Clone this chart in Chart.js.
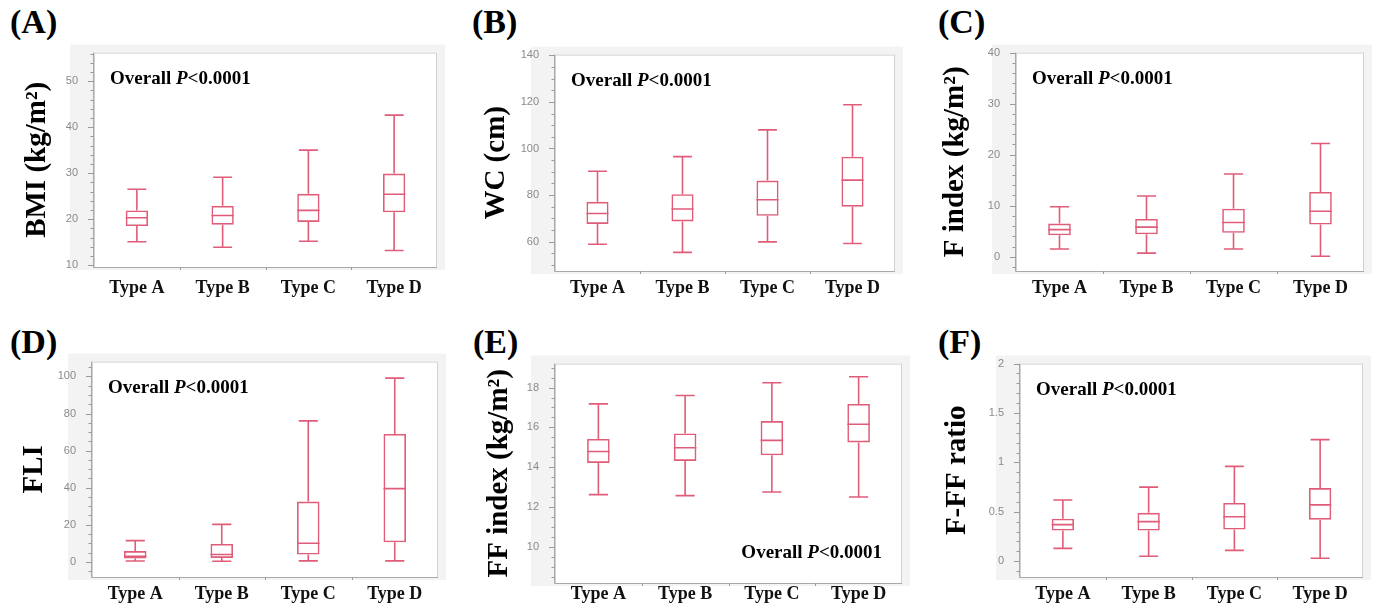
<!DOCTYPE html>
<html lang="en">
<head>
  <meta charset="UTF-8">
  <title>Box plots by type</title>
  <style>
    body {
      margin: 0;
      width: 1376px;
      height: 606px;
      overflow: hidden;
      position: relative;
      background: #ffffff;
      font-family: "Liberation Serif", "Times New Roman", serif;
    }
    .panel-label {
      position: absolute;
      font-weight: bold;
      font-size: 34px;
      line-height: 34px;
      color: #000;
    }
    .plot {
      position: absolute;
    }
  </style>
</head>
<body>
  <div class="panel-label" style="left:10px;top:5px">(A)</div>
  <div class="panel-label" style="left:472px;top:5px">(B)</div>
  <div class="panel-label" style="left:938px;top:5px">(C)</div>
  <div class="panel-label" style="left:10px;top:325px">(D)</div>
  <div class="panel-label" style="left:473px;top:325px">(E)</div>
  <div class="panel-label" style="left:938px;top:325px">(F)</div>

  <div class="plot" id="wrapA"><canvas id="chartA"></canvas></div>
  <div class="plot" id="wrapB"><canvas id="chartB"></canvas></div>
  <div class="plot" id="wrapC"><canvas id="chartC"></canvas></div>
  <div class="plot" id="wrapD"><canvas id="chartD"></canvas></div>
  <div class="plot" id="wrapE"><canvas id="chartE"></canvas></div>
  <div class="plot" id="wrapF"><canvas id="chartF"></canvas></div>

  <script src="https://cdn.jsdelivr.net/npm/chart.js"></script>
  <script>
    const categories = ['Type A', 'Type B', 'Type C', 'Type D'];

    // each box: [lower whisker, Q1, median, Q3, upper whisker]
    const bmiBoxes = [
      [15.1, 18.5, 20.3, 21.9, 26.5],
      [13.9, 18.8, 20.8, 22.9, 29.1],
      [15.2, 19.4, 21.9, 25.5, 35.0],
      [13.2, 21.5, 25.4, 29.9, 42.6]
    ];
    const wcBoxes = [
      [58.9, 67.6, 72.1, 77.1, 90.2],
      [55.4, 68.7, 74.0, 80.4, 96.5],
      [59.9, 71.1, 78.0, 86.2, 108.0],
      [59.2, 75.0, 86.4, 96.5, 118.8]
    ];
    const fIndexBoxes = [
      [1.5, 4.2, 5.3, 6.5, 9.8],
      [0.7, 4.4, 5.8, 7.4, 11.9],
      [1.5, 4.7, 6.7, 9.4, 16.2],
      [0.1, 6.3, 8.9, 12.7, 22.2]
    ];
    const fliBoxes = [
      [0.4, 1.8, 3.0, 5.8, 11.4],
      [0.3, 2.1, 3.9, 9.6, 20.2],
      [0.5, 3.9, 10.0, 32.5, 76.0],
      [0.5, 10.5, 39.5, 69.0, 99.1]
    ];
    const ffIndexBoxes = [
      [12.63, 14.22, 14.79, 15.42, 17.18],
      [12.58, 14.32, 14.98, 15.70, 17.60],
      [12.76, 14.60, 15.35, 16.32, 18.24],
      [12.51, 15.25, 16.16, 17.18, 18.54]
    ];
    const ratioBoxes = [
      [0.13, 0.31, 0.37, 0.43, 0.62],
      [0.05, 0.31, 0.40, 0.49, 0.75],
      [0.11, 0.32, 0.45, 0.59, 0.96],
      [0.03, 0.42, 0.57, 0.74, 1.23]
    ];

    const bmiTicks = [10, 20, 30, 40, 50];
    const wcTicks = [60, 80, 100, 120, 140];
    const fIndexTicks = [0, 10, 20, 30, 40];
    const fliTicks = [0, 20, 40, 60, 80, 100];
    const ffIndexTicks = [10, 12, 14, 16, 18];
    const ratioTicks = [0, 0.5, 1, 1.5, 2];

    const pValueLabel = ['Overall ', 'P', '<0.0001'];

    const boxColor = 'rgb(224, 92, 120)';
    const serif = '"Liberation Serif", "Times New Roman", serif';

    // frame = plot area [left, top, right, bottom] on the page
    const panels = [
      { id: 'A', boxes: bmiBoxes, ticks: bmiTicks, min: 9.6, max: 56.2, minor: 2,
        title: 'BMI (kg/m²)', frame: [94, 48, 437, 267], titleGap: 56, labelPad: 3, pCorner: 'top' },
      { id: 'B', boxes: wcBoxes, ticks: wcTicks, min: 47.4, max: 140.3, minor: 5,
        title: 'WC (cm)', frame: [555, 50, 895, 271], titleGap: 58, labelPad: -1, pCorner: 'top' },
      { id: 'C', boxes: fIndexBoxes, ticks: fIndexTicks, min: -2.8, max: 40, minor: 2,
        title: 'F index (kg/m²)', frame: [1016, 48, 1364, 271], titleGap: 60, labelPad: -1, pCorner: 'top' },
      { id: 'D', boxes: fliBoxes, ticks: fliTicks, min: -8.2, max: 108, minor: 5,
        title: 'FLI', frame: [92, 357, 438, 577], titleGap: 57, labelPad: -1, pCorner: 'top' },
      { id: 'E', boxes: ffIndexBoxes, ticks: ffIndexTicks, min: 8.2, max: 19.2, minor: 0.5,
        title: 'FF index (kg/m²)', frame: [555, 359, 902, 583], titleGap: 55, labelPad: -7, pCorner: 'bottom' },
      { id: 'F', boxes: ratioBoxes, ticks: ratioTicks, min: -0.16, max: 2.0, minor: 0.1,
        title: 'F-FF ratio', frame: [1020, 359, 1363, 577], titleGap: 62, labelPad: -1, pCorner: 'top' }
    ];

    const Y_W = 90, PAD_T = 10, PAD_R = 10, X_H = 30;

    function drawPValue(ctx, area, corner) {
      const fonts = [
        'bold 19px ' + serif,
        'italic bold 19px ' + serif,
        'bold 19px ' + serif
      ];
      let widths = pValueLabel.map((t, i) => { ctx.font = fonts[i]; return ctx.measureText(t).width; });
      const total = widths.reduce((a, b) => a + b, 0);
      let x, y;
      if (corner === 'top') {
        x = area.left + 16;
        y = area.top + 31;
      } else {
        x = area.right - 20 - total;
        y = area.bottom - 25;
      }
      ctx.fillStyle = '#000';
      ctx.textBaseline = 'alphabetic';
      ctx.textAlign = 'left';
      pValueLabel.forEach((t, i) => {
        ctx.font = fonts[i];
        ctx.fillText(t, x, y);
        x += widths[i];
      });
    }

    function makeBoxPlugin(p) {
      return {
        id: 'boxWhiskers' + p.id,
        beforeDraw(chart) {
          const { ctx, chartArea: a } = chart;
          ctx.save();
          ctx.fillStyle = '#f3f3f3';
          ctx.fillRect(a.left - 24, a.top - 8, a.right - a.left + 32, a.bottom - a.top + 11);
          ctx.fillStyle = '#ffffff';
          ctx.fillRect(a.left, a.top, a.right - a.left, a.bottom - a.top);
          ctx.restore();
        },
        afterDatasetsDraw(chart) {
          const { ctx } = chart;
          const y = chart.scales.y;
          const meta = chart.getDatasetMeta(0);
          ctx.save();
          ctx.strokeStyle = boxColor;
          ctx.lineWidth = 1.6;
          meta.data.forEach((bar, i) => {
            const [lo, q1, med, q3, hi] = p.boxes[i];
            const cx = bar.x;
            const half = bar.width / 2;
            const cap = half * 0.85;
            ctx.beginPath();
            ctx.moveTo(cx, y.getPixelForValue(hi));
            ctx.lineTo(cx, y.getPixelForValue(q3));
            ctx.moveTo(cx, y.getPixelForValue(q1));
            ctx.lineTo(cx, y.getPixelForValue(lo));
            ctx.moveTo(cx - cap, y.getPixelForValue(hi));
            ctx.lineTo(cx + cap, y.getPixelForValue(hi));
            ctx.moveTo(cx - cap, y.getPixelForValue(lo));
            ctx.lineTo(cx + cap, y.getPixelForValue(lo));
            ctx.moveTo(cx - half, y.getPixelForValue(med));
            ctx.lineTo(cx + half, y.getPixelForValue(med));
            ctx.stroke();
          });
          ctx.restore();
        },
        afterDraw(chart) {
          const { ctx, chartArea: a } = chart;
          const x = chart.scales.x, y = chart.scales.y;
          ctx.save();
          // frame
          ctx.lineWidth = 1;
          ctx.strokeStyle = '#d2d2d2';
          ctx.strokeRect(a.left + 0.5, a.top + 0.5, a.right - a.left - 1, a.bottom - a.top);
          ctx.strokeStyle = '#a9a9a9';
          ctx.beginPath();
          ctx.moveTo(a.left - 0.5, a.top);
          ctx.lineTo(a.left - 0.5, a.bottom + 0.5);
          ctx.lineTo(a.right, a.bottom + 0.5);
          ctx.stroke();
          // minor and major ticks on the value axis
          ctx.strokeStyle = '#9a9a9a';
          ctx.beginPath();
          const start = Math.ceil(y.min / p.minor - 1e-6) * p.minor;
          for (let v = start; v <= y.max + 1e-9; v += p.minor) {
            const py = Math.round(y.getPixelForValue(v)) + 0.5;
            ctx.moveTo(a.left - 0.5, py);
            ctx.lineTo(a.left - 3.5, py);
          }
          p.ticks.forEach(v => {
            const py = Math.round(y.getPixelForValue(v)) + 0.5;
            ctx.moveTo(a.left - 0.5, py);
            ctx.lineTo(a.left - 6, py);
          });
          ctx.stroke();
          // small separators between categories
          ctx.beginPath();
          for (let i = 0; i < categories.length - 1; i++) {
            const px = Math.round((x.getPixelForValue(i) + x.getPixelForValue(i + 1)) / 2) + 0.5;
            ctx.moveTo(px, a.bottom);
            ctx.lineTo(px, a.bottom + 3);
          }
          ctx.stroke();
          drawPValue(ctx, a, p.pCorner);
          ctx.restore();
        }
      };
    }

    panels.forEach(p => {
      const [l, t, r, b] = p.frame;
      const wrap = document.getElementById('wrap' + p.id);
      const canvas = document.getElementById('chart' + p.id);
      const w = (r - l) + Y_W + PAD_R;
      const h = (b - t) + PAD_T + X_H;
      wrap.style.left = (l - Y_W) + 'px';
      wrap.style.top = (t - PAD_T) + 'px';
      canvas.width = w;
      canvas.height = h;
      canvas.style.width = w + 'px';
      canvas.style.height = h + 'px';

      const titleSize = 29;
      const titlePad = (Y_W - p.titleGap) - titleSize * 1.2 / 2;

      new Chart(canvas, {
        type: 'bar',
        data: {
          labels: categories,
          datasets: [{
            data: p.boxes.map(bx => [bx[1], bx[3]]),
            backgroundColor: 'rgba(255, 255, 255, 0)',
            borderColor: boxColor,
            borderWidth: 1.6,
            borderSkipped: false,
            barPercentage: 0.26,
            categoryPercentage: 1
          }]
        },
        options: {
          responsive: false,
          animation: false,
          devicePixelRatio: 1,
          layout: { padding: { top: PAD_T, right: PAD_R, left: 0, bottom: 0 } },
          plugins: {
            legend: { display: false },
            tooltip: { enabled: false }
          },
          scales: {
            x: {
              grid: { display: false },
              border: { display: false },
              ticks: {
                color: '#111',
                padding: p.labelPad,
                maxRotation: 0,
                font: { family: serif, size: 18, weight: 'bold' }
              },
              afterFit: s => { s.height = X_H; }
            },
            y: {
              min: p.min,
              max: p.max,
              grid: { display: false },
              border: { display: false },
              afterBuildTicks: s => { s.ticks = p.ticks.map(v => ({ value: v })); },
              ticks: {
                color: '#8a8a8a',
                padding: 8,
                font: { family: '"Liberation Sans", Arial, sans-serif', size: 11 },
                callback: v => String(v)
              },
              title: {
                display: true,
                text: p.title,
                color: '#000',
                padding: { top: titlePad, bottom: 0 },
                font: { family: serif, size: titleSize, weight: 'bold' }
              },
              afterFit: s => { s.width = Y_W; }
            }
          }
        },
        plugins: [makeBoxPlugin(p)]
      });
    });
  </script>
</body>
</html>
